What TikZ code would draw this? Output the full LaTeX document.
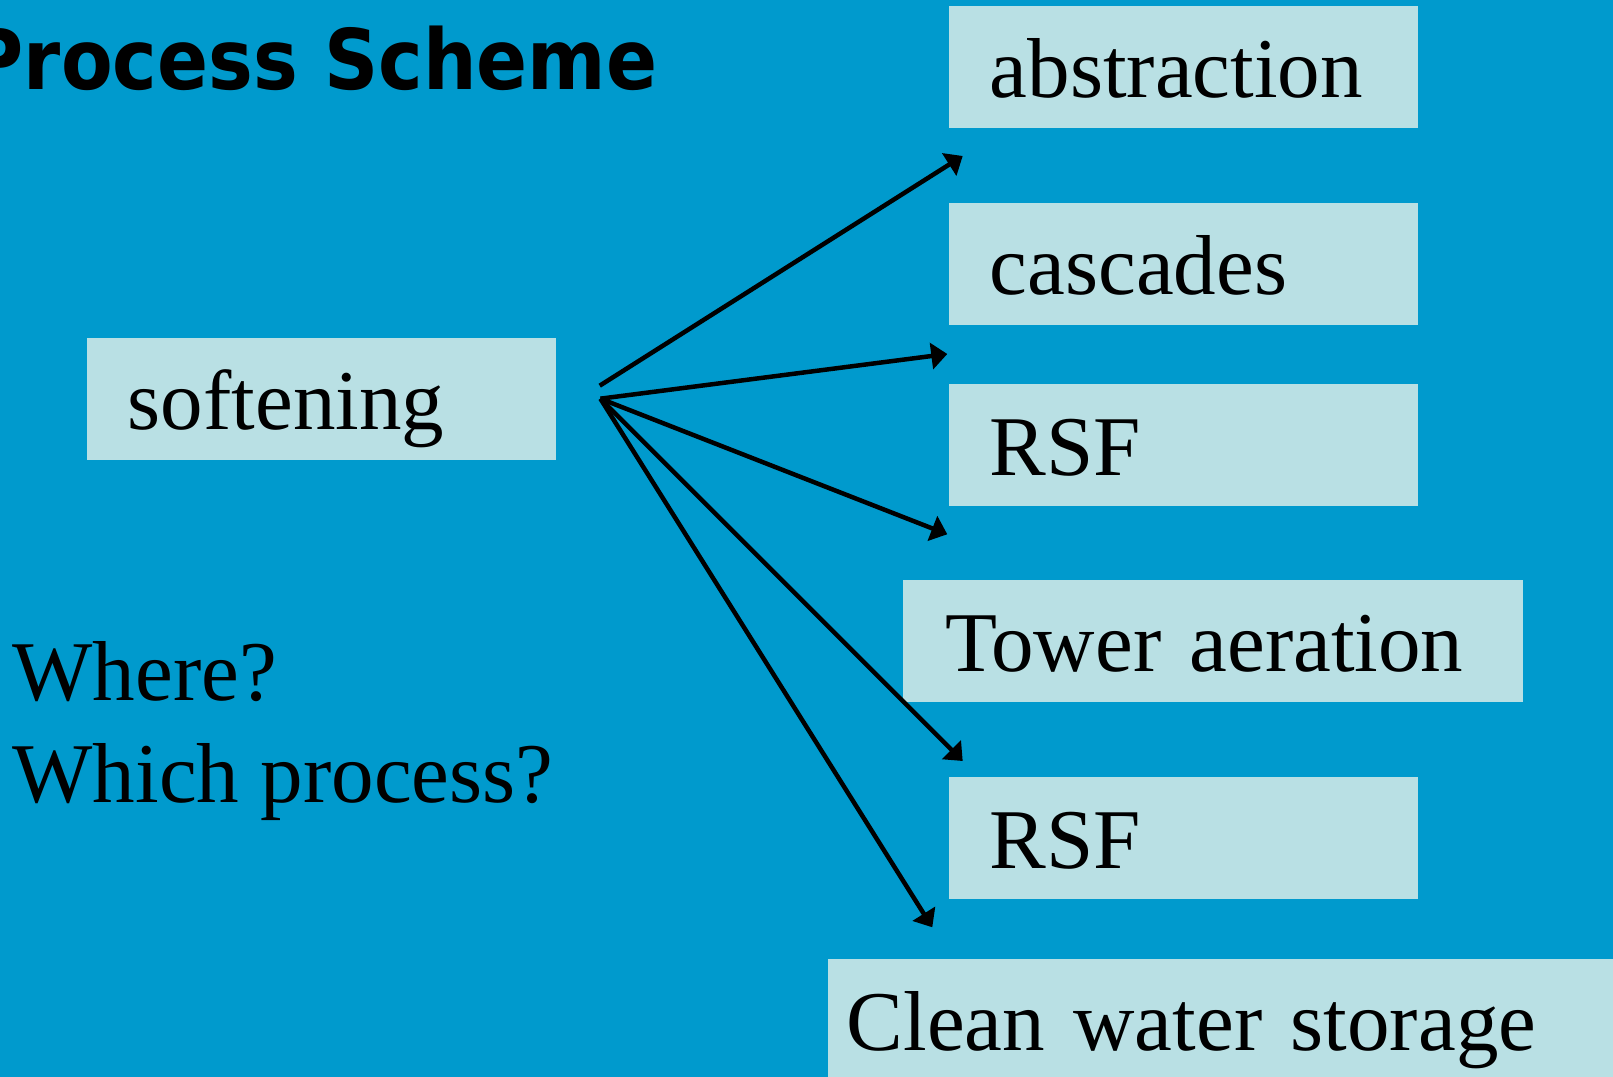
\documentclass[tikz,border=0pt]{standalone}
\usepackage{fontspec}
\setmainfont{Liberation Serif}
\newfontfamily\headfont[FakeStretch=0.9]{DejaVu Sans}
\usetikzlibrary{arrows.meta}

\definecolor{slideblue}{RGB}{0,154,205}
\definecolor{boxblue}{RGB}{185,224,228}

\begin{document}
\begin{tikzpicture}[>={Triangle[length=1.6mm,width=2.6mm]},
	box/.style={fill=boxblue, anchor=north west, inner xsep=0.41cm, inner ysep=0pt,
		text height=0.92cm, text depth=0.30cm, text width=3.87cm, align=left,
		font=\fontsize{24.2}{29}\selectfont},
	label/.style={anchor=base west, inner sep=0pt, font=\fontsize{24.2}{29}\selectfont},
	flow/.style={->, line width=0.45mm}]
	\clip (0,0) rectangle (16.13,10.77);
	\fill[slideblue] (0,0) rectangle (16.13,10.77);

	%title
	\node[anchor=base east, inner sep=0pt, font=\headfont\bfseries\fontsize{23.8}{28}\selectfont] (title) at (6.58,9.87) {Process Scheme};

	%boxes
	\node[box] (soft)  at (0.86,7.40) {softening};
	\node[box] (abstr) at (9.48,10.72) {abstraction};
	\node[box] (casc)  at (9.48,8.75) {cascades};
	\node[box] (rsfa)  at (9.48,6.94) {RSF};
	\node[box, inner xsep=0.425cm, text width=5.35cm] (tower) at (9.02,4.98) {Tower aeration};
	\node[box] (rsfb)  at (9.48,3.01) {RSF};
	\node[box, inner xsep=0.19cm, text width=7.52cm] (store) at (8.27,1.19) {Clean water storage};

	%questions
	\node[label] (where) at (0.12,3.76) {Where?};
	\node[label] (which) at (0.12,2.74) {Which process?};

	%arrows
	\coordinate (hub)    at ([xshift=0.44cm]soft.east);
	\coordinate (hubtop) at ([xshift=0.433cm,yshift=0.13cm]soft.east);
	\coordinate (tipa) at (9.627,9.21);
	\coordinate (tipb) at (9.473,7.23);
	\coordinate (tipc) at (9.473,5.427);
	\coordinate (tipd) at (9.627,3.16);
	\coordinate (tipe) at (9.323,1.497);
	\draw[flow] (hubtop) -- (tipa);
	\draw[flow] (hub) -- (tipb);
	\draw[flow] (hub) -- (tipc);
	\draw[flow] (hub) -- (tipd);
	\draw[flow] (hub) -- (tipe);
\end{tikzpicture}
\end{document}
